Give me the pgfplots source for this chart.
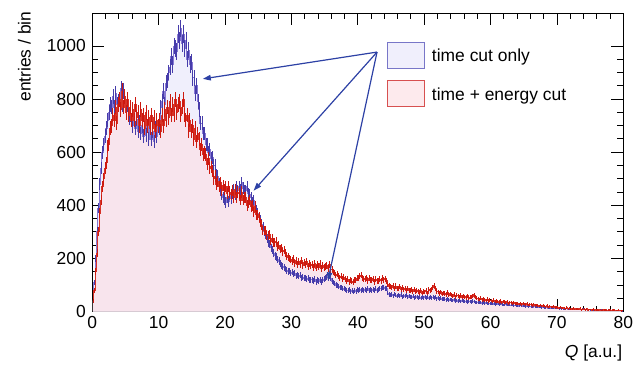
\documentclass[border=0pt]{standalone}
\usepackage{fontspec}
\setmainfont{Liberation Sans}
\usepackage{pgfplots}
\usepackage{pgfplotstable}
\pgfplotsset{compat=1.18}
\usetikzlibrary{arrows.meta}

\definecolor{bfill}{RGB}{240,239,252}
\definecolor{rfill}{RGB}{248,228,237}
\definecolor{bline}{RGB}{135,120,212}
\definecolor{berr}{RGB}{70,60,170}
\definecolor{rline}{RGB}{214,50,40}
\definecolor{rerr}{RGB}{205,25,15}
\definecolor{arrowc}{RGB}{45,65,165}
\definecolor{bleg}{RGB}{120,118,200}
\definecolor{rleg}{RGB}{215,80,80}
\definecolor{rlegfill}{RGB}{253,234,237}

% time cut only, bins of 0.2 starting at 0
\pgfplotstableread[row sep=\\]{
y\\
45\\ 110\\ 200\\ 300\\ 390\\
480\\ 540\\ 600\\ 630\\ 660\\
690\\ 720\\ 750\\ 780\\ 770\\
810\\ 770\\ 820\\ 780\\ 790\\
800\\ 840\\ 780\\ 830\\ 785\\
770\\ 780\\ 730\\ 740\\ 720\\
700\\ 740\\ 690\\ 725\\ 680\\
715\\ 670\\ 700\\ 660\\ 695\\
665\\ 700\\ 650\\ 690\\ 650\\
680\\ 640\\ 690\\ 660\\ 700\\
690\\ 770\\ 790\\ 830\\ 780\\
860\\ 870\\ 900\\ 920\\ 960\\
930\\ 1000\\ 990\\ 980\\ 1045\\
1020\\ 1065\\ 1010\\ 1045\\ 990\\
1020\\ 950\\ 985\\ 930\\ 940\\
880\\ 880\\ 820\\ 850\\ 790\\
760\\ 710\\ 710\\ 670\\ 670\\
630\\ 630\\ 600\\ 610\\ 575\\
580\\ 550\\ 550\\ 515\\ 510\\
480\\ 455\\ 440\\ 430\\ 420\\
410\\ 430\\ 415\\ 440\\ 425\\
445\\ 460\\ 440\\ 470\\ 455\\
470\\ 460\\ 485\\ 465\\ 455\\
455\\ 470\\ 445\\ 440\\ 430\\
410\\ 420\\ 395\\ 380\\ 370\\
355\\ 345\\ 330\\ 320\\ 300\\
290\\ 275\\ 260\\ 255\\ 240\\
230\\ 220\\ 210\\ 205\\ 195\\
190\\ 180\\ 175\\ 170\\ 165\\
160\\ 155\\ 150\\ 152\\ 145\\
148\\ 140\\ 145\\ 135\\ 138\\
132\\ 136\\ 128\\ 130\\ 125\\
128\\ 122\\ 126\\ 118\\ 120\\
120\\ 115\\ 122\\ 112\\ 118\\
115\\ 120\\ 112\\ 118\\ 122\\
125\\ 130\\ 128\\ 135\\ 125\\
115\\ 110\\ 105\\ 100\\ 98\\
95\\ 92\\ 90\\ 88\\ 85\\
82\\ 80\\ 78\\ 84\\ 76\\
78\\ 74\\ 80\\ 76\\ 82\\
80\\ 84\\ 78\\ 82\\ 80\\
84\\ 80\\ 86\\ 78\\ 82\\
80\\ 84\\ 78\\ 85\\ 80\\
82\\ 86\\ 88\\ 92\\ 90\\
88\\ 86\\ 70\\ 64\\ 62\\
64\\ 60\\ 66\\ 62\\ 58\\
62\\ 58\\ 64\\ 56\\ 60\\
58\\ 62\\ 55\\ 60\\ 56\\
55\\ 58\\ 52\\ 56\\ 54\\
52\\ 55\\ 50\\ 54\\ 52\\
56\\ 52\\ 55\\ 50\\ 54\\
52\\ 55\\ 50\\ 53\\ 48\\
52\\ 48\\ 50\\ 46\\ 48\\
46\\ 44\\ 48\\ 43\\ 45\\
44\\ 42\\ 45\\ 40\\ 42\\
40\\ 42\\ 38\\ 41\\ 39\\
38\\ 40\\ 36\\ 39\\ 37\\
36\\ 40\\ 38\\ 35\\ 34\\
36\\ 33\\ 35\\ 32\\ 34\\
31\\ 33\\ 30\\ 32\\ 29\\
30\\ 28\\ 31\\ 27\\ 29\\
28\\ 26\\ 29\\ 27\\ 25\\
26\\ 28\\ 24\\ 27\\ 25\\
24\\ 26\\ 23\\ 25\\ 22\\
23\\ 21\\ 24\\ 20\\ 22\\
21\\ 19\\ 22\\ 18\\ 20\\
19\\ 17\\ 20\\ 18\\ 16\\
17\\ 16\\ 18\\ 15\\ 16\\
15\\ 14\\ 16\\ 13\\ 14\\
13\\ 12\\ 14\\ 12\\ 13\\
12\\ 11\\ 13\\ 10\\ 11\\
11\\ 10\\ 12\\ 9\\ 10\\
10\\ 9\\ 11\\ 8\\ 9\\
9\\ 8\\ 10\\ 8\\ 9\\
8\\ 7\\ 9\\ 7\\ 8\\
7\\ 8\\ 6\\ 7\\ 6\\
6\\ 7\\ 5\\ 6\\ 6\\
5\\ 6\\ 5\\ 6\\ 5\\
5\\ 4\\ 5\\ 4\\ 5\\
4\\ 5\\ 4\\ 4\\ 3\\
}\bluetab

% time + energy cut, bins of 0.2 starting at 0
\pgfplotstableread[row sep=\\]{
y\\
40\\ 80\\ 150\\ 220\\ 300\\
370\\ 420\\ 470\\ 500\\ 540\\
560\\ 620\\ 630\\ 690\\ 700\\
740\\ 720\\ 770\\ 710\\ 780\\
800\\ 760\\ 830\\ 770\\ 810\\
750\\ 800\\ 740\\ 770\\ 720\\
760\\ 720\\ 780\\ 730\\ 750\\
700\\ 760\\ 720\\ 740\\ 690\\
750\\ 700\\ 730\\ 690\\ 740\\
690\\ 730\\ 680\\ 720\\ 700\\
720\\ 680\\ 740\\ 700\\ 760\\
720\\ 770\\ 730\\ 790\\ 740\\
780\\ 740\\ 800\\ 750\\ 780\\
790\\ 740\\ 770\\ 800\\ 740\\
720\\ 740\\ 680\\ 720\\ 680\\
700\\ 650\\ 690\\ 640\\ 670\\
650\\ 610\\ 630\\ 590\\ 600\\
590\\ 555\\ 575\\ 540\\ 545\\
530\\ 500\\ 510\\ 480\\ 490\\
470\\ 485\\ 455\\ 475\\ 460\\
470\\ 445\\ 470\\ 450\\ 440\\
455\\ 430\\ 460\\ 430\\ 450\\
445\\ 420\\ 450\\ 420\\ 430\\
430\\ 400\\ 410\\ 420\\ 395\\
400\\ 375\\ 395\\ 365\\ 365\\
355\\ 335\\ 325\\ 305\\ 305\\
305\\ 285\\ 285\\ 290\\ 265\\
275\\ 260\\ 260\\ 265\\ 245\\
250\\ 235\\ 240\\ 225\\ 230\\
220\\ 210\\ 205\\ 200\\ 195\\
190\\ 198\\ 182\\ 192\\ 178\\
188\\ 176\\ 192\\ 172\\ 184\\
176\\ 188\\ 170\\ 182\\ 172\\
178\\ 166\\ 182\\ 164\\ 176\\
168\\ 180\\ 162\\ 174\\ 166\\
170\\ 174\\ 162\\ 178\\ 158\\
160\\ 148\\ 146\\ 138\\ 140\\
134\\ 128\\ 134\\ 122\\ 130\\
122\\ 116\\ 122\\ 112\\ 120\\
114\\ 110\\ 120\\ 118\\ 126\\
126\\ 134\\ 138\\ 128\\ 124\\
122\\ 128\\ 116\\ 126\\ 118\\
118\\ 124\\ 112\\ 122\\ 116\\
116\\ 122\\ 116\\ 126\\ 120\\
124\\ 116\\ 102\\ 96\\ 94\\
92\\ 98\\ 86\\ 96\\ 88\\
88\\ 94\\ 83\\ 92\\ 84\\
86\\ 78\\ 88\\ 80\\ 78\\
82\\ 76\\ 84\\ 74\\ 80\\
76\\ 72\\ 80\\ 70\\ 76\\
74\\ 80\\ 70\\ 82\\ 80\\
84\\ 92\\ 98\\ 86\\ 76\\
74\\ 68\\ 74\\ 66\\ 70\\
68\\ 64\\ 72\\ 62\\ 67\\
63\\ 58\\ 66\\ 56\\ 62\\
60\\ 55\\ 61\\ 53\\ 58\\
56\\ 52\\ 59\\ 51\\ 55\\
55\\ 58\\ 63\\ 54\\ 50\\
48\\ 45\\ 50\\ 44\\ 47\\
44\\ 41\\ 46\\ 40\\ 43\\
41\\ 38\\ 43\\ 37\\ 40\\
38\\ 36\\ 40\\ 34\\ 37\\
36\\ 33\\ 38\\ 32\\ 35\\
33\\ 30\\ 35\\ 29\\ 32\\
31\\ 28\\ 31\\ 27\\ 29\\
28\\ 26\\ 30\\ 25\\ 27\\
26\\ 23\\ 28\\ 22\\ 25\\
23\\ 21\\ 25\\ 20\\ 22\\
21\\ 18\\ 23\\ 17\\ 20\\
18\\ 16\\ 20\\ 15\\ 17\\
15\\ 13\\ 17\\ 12\\ 14\\
13\\ 11\\ 15\\ 10\\ 12\\
11\\ 9\\ 13\\ 8\\ 10\\
10\\ 8\\ 12\\ 7\\ 9\\
9\\ 7\\ 10\\ 6\\ 8\\
8\\ 6\\ 9\\ 5\\ 7\\
7\\ 5\\ 8\\ 5\\ 7\\
6\\ 7\\ 4\\ 6\\ 6\\
6\\ 4\\ 7\\ 4\\ 5\\
5\\ 6\\ 4\\ 3\\ 5\\
}\redtab

\begin{document}
\begin{tikzpicture}[font=\fontsize{17.5}{21}\selectfont]
\path[use as bounding box] (-92.3bp,-55.5bp) rectangle (551.7bp,311.5bp);
\begin{axis}[
  name=ax,
  at={(0,0)}, anchor=south west,
  scale only axis,
  width=531bp, height=298.2bp,
  xmin=0, xmax=80, ymin=0, ymax=1123,
  xtick={0,10,...,80}, ytick={0,200,...,1000},
  minor x tick num=4, minor y tick num=3,
  major tick length=12bp, minor tick length=6bp,
  tick style={black, line width=0.8bp},
  axis line style={line width=1bp},
  tick label style={font=\fontsize{17.5}{21}\selectfont},
  /pgf/number format/assume math mode=true,
  /pgf/number format/1000 sep={},
  yticklabel style={xshift=-3bp},
  xticklabel style={yshift=-1bp},
  legend style={at={(rel axis cs:0.555,0.905)}, anchor=north west, draw=none, fill=none,
    font=\fontsize{17.5}{21}\selectfont, row sep=11.5bp, inner sep=0pt, outer sep=0pt,
    nodes={inner sep=0pt, outer sep=0pt}, column sep=7bp},
  legend cell align=left,
  legend image code/.code={\draw[#1, line width=1bp] (0bp,-12bp) rectangle (37bp,14bp);},
]
% fills
\addplot[const plot mark mid, draw=none, fill=bfill, forget plot]
  table[x expr=\coordindex*0.2+0.1, y=y] {\bluetab} \closedcycle;
\addplot[const plot mark mid, draw=none, fill=rfill, forget plot]
  table[x expr=\coordindex*0.2+0.1, y=y] {\redtab} \closedcycle;
% blue histogram with error bars
\addplot[const plot mark mid, color=bline, line width=0.7bp, mark=none, forget plot,
  error bars/.cd, y dir=both, y explicit, error mark=none,
  error bar style={color=berr, line width=0.6bp}]
  table[x expr=\coordindex*0.2+0.1, y=y, y error expr=sqrt(\thisrow{y})] {\bluetab};
% red histogram with error bars
\addplot[const plot mark mid, color=rline, line width=0.7bp, mark=none, forget plot,
  error bars/.cd, y dir=both, y explicit, error mark=none,
  error bar style={color=rerr, line width=0.8bp}]
  table[x expr=\coordindex*0.2+0.1, y=y, y error expr=sqrt(\thisrow{y})] {\redtab};
% legend
\addlegendimage{draw=bleg, fill=bfill}
\addlegendentry{time cut only}
\addlegendimage{draw=rleg, fill=rlegfill}
\addlegendentry{time + energy cut}
% arrows
\draw[arrowc, line width=1.2bp, -{Triangle[length=8bp,width=5.5bp]}] (axis cs:42.9,977) -- (axis cs:16.65,876);
\draw[arrowc, line width=1.2bp, -{Triangle[length=8bp,width=5.5bp]}] (axis cs:42.9,977) -- (axis cs:24.3,455);
\draw[arrowc, line width=1.2bp, -{Triangle[length=8bp,width=5.5bp]}] (axis cs:42.9,977) -- (axis cs:35.5,117);
\end{axis}
\node[rotate=90, anchor=east, inner sep=0pt] at ([xshift=-67.8bp, yshift=2bp]ax.north west) {entries / bin};
\node[anchor=base east, inner sep=0pt] at ([xshift=-1bp, yshift=-45.5bp]ax.south east) {\textit{Q} [a.u.]};
\end{tikzpicture}
\end{document}
